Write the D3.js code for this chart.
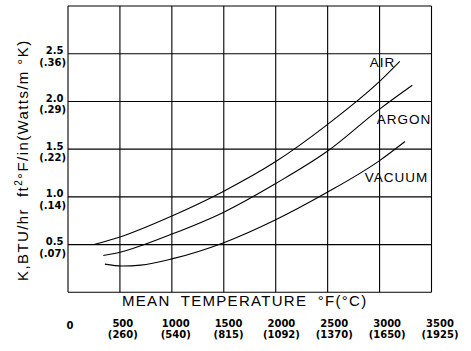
<!DOCTYPE html>
<html>
<head>
<meta charset="utf-8">
<script src="https://cdn.jsdelivr.net/npm/d3@7"></script>
<style>
  body { margin: 0; background: #fff; }
  svg { display: block; }
  .grid line { stroke: #000; stroke-width: 1.1; }
  .curve { fill: none; stroke: #000; stroke-width: 1.1; }
  .tick-lbl { font-family: "DejaVu Sans", sans-serif; font-weight: bold; font-size: 10px; fill: #000; }
  .title { font-family: "Liberation Sans", Arial, sans-serif; font-size: 15px; fill: #000; }
  .series-lbl { font-family: "Liberation Sans", Arial, sans-serif; font-size: 13.5px; fill: #000; letter-spacing: 1px; }
</style>
</head>
<body>
<svg id="chart" width="471" height="351"></svg>
<script>
// mean temperature (°F) vs thermal conductivity K (BTU/hr ft² °F/in)
const airData = [[250, 0.50], [500, 0.58], [1000, 0.80], [1500, 1.06], [2000, 1.37], [2500, 1.76], [3000, 2.21], [3195, 2.42]];
const argonData = [[340, 0.385], [500, 0.42], [1000, 0.61], [1500, 0.84], [2000, 1.14], [2500, 1.48], [3000, 1.92], [3315, 2.17]];
const vacuumData = [[355, 0.295], [520, 0.275], [700, 0.285], [1000, 0.35], [1500, 0.52], [2000, 0.76], [2500, 1.05], [3000, 1.38], [3245, 1.58]];

const seriesNames = ['AIR', 'ARGON', 'VACUUM'];

// tick labels
const xTicksF = [0, 500, 1000, 1500, 2000, 2500, 3000, 3500];
const xTicksC = [null, '(260)', '(540)', '(815)', '(1092)', '(1370)', '(1650)', '(1925)'];
const yTicksK = [0.5, 1.0, 1.5, 2.0, 2.5];
const yTicksSI = ['(.07)', '(.14)', '(.22)', '(.29)', '(.36)'];

const svg = d3.select('#chart');
const margin = { top: 6, right: 40, bottom: 59, left: 68 };
const width = 431.5 - margin.left;
const height = 292.3 - margin.top;

const x = d3.scaleLinear().domain([0, 3500]).range([margin.left, margin.left + width]);
const y = d3.scaleLinear().domain([0, 3]).range([margin.top + height, margin.top]);
// tick labels drift slightly right of the grid in the original
const xLbl = d3.scaleLinear().domain([0, 3500]).range([70, 440]);

// grid
const grid = svg.append('g').attr('class', 'grid');
grid.selectAll('.v').data(d3.range(0, 3501, 500))
  .join('line')
    .attr('x1', d => x(d)).attr('x2', d => x(d))
    .attr('y1', y(3)).attr('y2', y(0));
grid.selectAll('.h').data(d3.range(0, 3.01, 0.5))
  .join('line')
    .attr('x1', x(0)).attr('x2', x(3500))
    .attr('y1', d => y(d)).attr('y2', d => y(d))
    .attr('stroke-width', d => d === 0.5 ? 2.2 : (d === 2 ? 1.5 : 1.1))
    .attr('stroke', d => d === 0.5 ? '#333' : '#000');

// curves
const line = d3.line().x(d => x(d[0])).y(d => y(d[1])).curve(d3.curveMonotoneX);
svg.selectAll('.curve').data([airData, argonData, vacuumData])
  .join('path')
    .attr('class', 'curve')
    .attr('d', line);

// series labels
const lblPos = [[2906, 2.36], [2974, 1.76], [2858, 1.16]];
svg.selectAll('.series-lbl').data(seriesNames)
  .join('text')
    .attr('class', 'series-lbl')
    .attr('x', (d, i) => x(lblPos[i][0]))
    .attr('y', (d, i) => y(lblPos[i][1]))
    .text(d => d);

// y tick labels
const yl = svg.append('g');
yl.selectAll('.yk').data(yTicksK)
  .join('text')
    .attr('class', 'tick-lbl')
    .attr('text-anchor', 'end')
    .attr('x', 63.5)
    .attr('y', d => y(d) + 0.5)
    .text(d => d.toFixed(1));
yl.selectAll('.ysi').data(yTicksSI)
  .join('text')
    .attr('class', 'tick-lbl')
    .attr('text-anchor', 'end')
    .attr('x', 66)
    .attr('y', (d, i) => y(yTicksK[i]) + 12)
    .text(d => d);

// x tick labels
const xl = svg.append('g');
xl.selectAll('.xf').data(xTicksF)
  .join('text')
    .attr('class', 'tick-lbl')
    .attr('text-anchor', 'middle')
    .attr('x', d => xLbl(d))
    .attr('y', d => d === 0 ? 328.5 : 327)
    .text(d => d);
xl.selectAll('.xc').data(xTicksC.filter(d => d))
  .join('text')
    .attr('class', 'tick-lbl')
    .attr('text-anchor', 'middle')
    .attr('x', (d, i) => xLbl(xTicksF[i + 1]))
    .attr('y', 338)
    .text(d => d);

// axis titles
svg.append('text')
  .attr('class', 'title')
  .attr('x', 122)
  .attr('y', 306)
  .attr('letter-spacing', 1.3)
  .attr('word-spacing', 5)
  .text('MEAN TEMPERATURE °F(°C)');

const yt = svg.append('text')
  .attr('class', 'title')
  .attr('transform', 'translate(28,281) rotate(-90)')
  .attr('letter-spacing', 1.4);
yt.append('tspan').text('K,BTU/hr\u00a0\u00a0ft');
yt.append('tspan').attr('font-size', 10).attr('dy', -6).text('2');
yt.append('tspan').attr('dy', 6).text('°F/in(Watts/m\u00a0°K)');
</script>
</body>
</html>
